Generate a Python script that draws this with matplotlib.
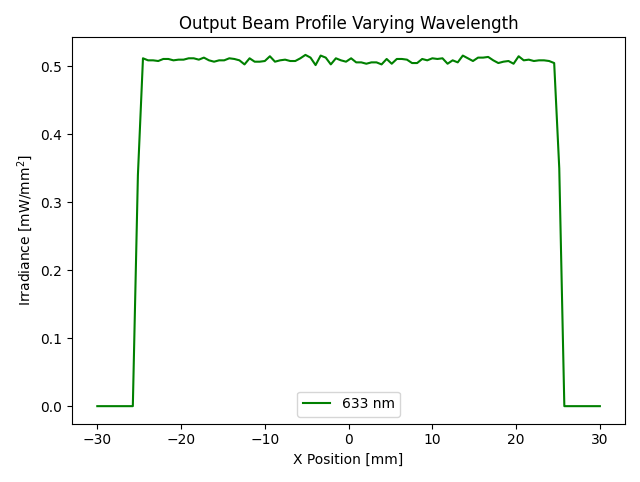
import numpy as np
import matplotlib
matplotlib.use("Agg")
import matplotlib.pyplot as plt

# sample positions across the beam [mm]
x_pos = np.linspace(-30, 30, 100)

# measured irradiance at 633 nm [mW/mm^2]
irr_633 = [
    0.0, 0.0, 0.0, 0.0, 0.0, 0.0, 0.0, 0.0, 0.34,
    0.512, 0.509, 0.509, 0.508, 0.511, 0.511, 0.509, 0.510, 0.510, 0.512,
    0.512, 0.510, 0.513, 0.509, 0.507, 0.509, 0.509, 0.512, 0.511, 0.509,
    0.503, 0.512, 0.507, 0.507, 0.508, 0.515, 0.507, 0.509, 0.510, 0.508,
    0.508, 0.512, 0.517, 0.513, 0.502, 0.516, 0.513, 0.503, 0.512, 0.509,
    0.507, 0.512, 0.506, 0.506, 0.504, 0.506, 0.506, 0.503, 0.511, 0.504,
    0.511, 0.511, 0.510, 0.505, 0.505, 0.511, 0.509, 0.512, 0.511, 0.512,
    0.504, 0.509, 0.506, 0.516, 0.512, 0.508, 0.513, 0.513, 0.514, 0.509,
    0.505, 0.507, 0.508, 0.504, 0.515, 0.509, 0.510, 0.508, 0.509, 0.509,
    0.508, 0.505, 0.35,
    0.0, 0.0, 0.0, 0.0, 0.0, 0.0, 0.0, 0.0,
]

fig = plt.figure(figsize=(6.4, 4.82), dpi=100)
plt.plot(x_pos, irr_633, color='green', label='633 nm')
plt.title('Output Beam Profile Varying Wavelength')
plt.xlabel('X Position [mm]')
plt.ylabel('Irradiance [mW/mm$^2$]')
plt.legend(loc='lower center')
plt.tight_layout()
plt.savefig('out.png', dpi=100)
